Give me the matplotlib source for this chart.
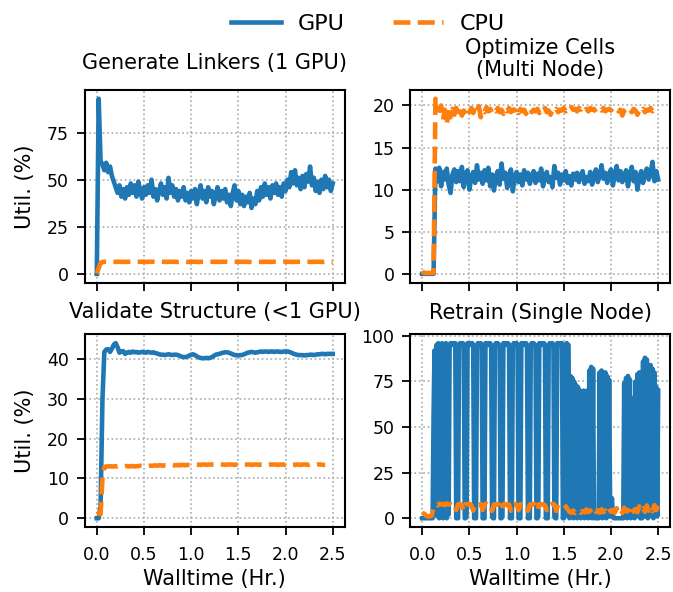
import numpy as np
import matplotlib
matplotlib.use("Agg")
import matplotlib.pyplot as plt

plt.rcParams["font.family"] = ["DejaVu Sans"]

GPU_COLOR = "#1f77b4"
CPU_COLOR = "#ff7f0e"

# ---------------- Generate Linkers (1 GPU) ----------------
linkers_step = 0.02
linkers_gpu = [
    0, 93, 60, 58, 55, 59, 54, 57, 52, 49, 46, 43, 47, 41, 45, 40, 46, 42, 48, 43,
    47, 41, 49, 44, 40, 46, 42, 47, 43, 50, 41, 45, 39, 44, 48, 42, 46, 40, 51, 43,
    47, 41, 45, 39, 44, 41, 46, 39, 43, 38, 44, 40, 45, 37, 43, 47, 40, 44, 38, 46,
    41, 44, 37, 42, 46, 39, 44, 40, 45, 38, 42, 36, 43, 47, 39, 44, 37, 42, 36, 41,
    38, 43, 35, 40, 37, 44, 39, 46, 41, 48, 42, 46, 40, 47, 43, 48, 42, 46, 41, 48,
    44, 50, 46, 54, 48, 55, 47, 51, 45, 52, 46, 53, 49, 57, 47, 51, 44, 49, 43, 50,
    45, 52, 46, 50, 44, 48,
]
linkers_cpu = [
    0.2, 3.0, 5.8,
    6.3, 6.4, 6.4, 6.3, 6.4, 6.4, 6.4, 6.3, 6.4, 6.4, 6.4, 6.4, 6.3, 6.4, 6.4, 6.4,
    6.4, 6.3, 6.4, 6.4, 6.4, 6.4, 6.4, 6.3, 6.4, 6.4, 6.4, 6.4, 6.3, 6.4, 6.4, 6.4,
    6.4, 6.4, 6.3, 6.4, 6.4, 6.4, 6.4, 6.4, 6.3, 6.4, 6.4, 6.4, 6.4, 6.3, 6.4, 6.4,
    6.4, 6.4, 6.4, 6.3, 6.4, 6.4, 6.4, 6.4, 6.3, 6.4, 6.4, 6.4, 6.4, 6.4, 6.3, 6.4,
    6.4, 6.4, 6.4, 6.3, 6.4, 6.4, 6.4, 6.4, 6.4, 6.3, 6.4, 6.4, 6.4, 6.4, 6.3, 6.4,
    6.4, 6.4, 6.4, 6.4, 6.3, 6.4, 6.4, 6.4, 6.4, 6.3, 6.4, 6.4, 6.4, 6.4, 6.4, 6.3,
    6.4, 6.4, 6.4, 6.4, 6.3, 6.4, 6.4, 6.4, 6.4, 6.4, 6.3, 6.4, 6.4, 6.4, 6.4, 6.3,
    6.4, 6.4, 6.4, 6.4, 6.4, 6.3, 6.4, 6.4, 6.4, 6.4, 6.3,
]

# ---------------- Optimize Cells (Multi Node) ----------------
cells_step = 0.02
cells_gpu = [
    0, 0, 0, 0, 0, 0, 0, 12.5,
    11.0, 12.6, 10.4, 12.1, 11.2, 12.5, 10.6, 9.6, 11.8, 12.4, 10.9, 12.2, 11.0, 12.7,
    10.3, 11.9, 12.3, 10.0, 11.5, 12.1, 10.8, 12.9, 11.2, 12.0, 10.7, 12.3, 11.1, 12.6,
    10.4, 11.8, 9.9, 11.6, 12.2, 10.6, 13.1, 11.3, 12.0, 10.2, 11.7, 12.4, 9.8, 11.5,
    12.1, 10.9, 11.8, 10.5, 12.3, 11.2, 12.0, 10.7, 11.6, 12.2, 10.8, 11.9, 11.1, 12.5,
    10.4, 11.7, 12.1, 10.9, 11.5, 10.3, 12.8, 11.4, 12.0, 10.6, 11.8, 11.1, 12.2, 10.8,
    11.6, 10.5, 11.9, 11.2, 12.0, 10.9, 11.7, 12.2, 10.7, 11.5, 11.0, 12.1, 10.6, 11.8,
    12.4, 10.9, 11.6, 12.9, 11.3, 12.0, 10.8, 11.9, 12.4, 10.5, 11.7, 12.8, 11.1, 12.2,
    10.9, 11.6, 12.3, 10.4, 11.8, 12.7, 11.0, 12.1, 10.0, 11.4, 12.2, 10.8, 11.9, 12.5,
    11.2, 12.0, 13.3, 11.0, 12.2, 11.2,
]
cells_cpu = [
    0.3, 0.1, 0.1, 0.1, 0.1, 0.1, 0.1, 20.8,
    20.2, 19.4, 20.0, 18.3, 19.5, 17.9, 19.2, 18.6, 19.6, 18.9, 19.7, 18.7, 19.3, 18.8,
    19.4, 19.0, 19.6, 19.2, 19.7, 19.1, 19.8, 19.3, 19.9, 18.6, 19.4, 19.2, 19.8, 19.3,
    19.6, 19.1, 19.5, 19.3, 19.7, 19.2, 19.5, 19.0, 19.6, 19.3, 19.7, 19.2, 19.5, 19.4,
    19.8, 19.1, 19.6, 19.3, 19.5, 19.0, 19.4, 19.7, 19.2, 19.5, 19.3, 19.6, 19.1, 19.5,
    19.3, 19.7, 19.2, 19.4, 18.9, 19.5, 19.3, 19.6, 19.2, 19.5, 19.4, 19.7, 19.3, 19.6,
    19.4, 19.8, 19.5, 19.6, 19.3, 19.7, 19.5, 19.8, 19.4, 19.6, 19.3, 19.7, 19.5, 19.6,
    19.2, 19.5, 19.6, 19.4, 19.7, 19.3, 19.5, 19.6, 19.4, 19.7, 19.5, 19.6, 19.3, 19.5,
    18.8, 19.4, 19.6, 19.3, 19.5, 19.2, 19.6, 19.4, 18.9, 19.5, 19.3, 19.6, 19.2, 19.5,
    19.4, 19.7, 19.3, 19.5, 19.4, 19.2,
]

# ---------------- Validate Structure (<1 GPU) ----------------
validate_step = 0.02
validate_gpu = [
    0, 0, 3, 30, 41.8, 42.4, 42.5, 41.8, 42.6, 43.6, 44.0, 43.0, 41.6, 41.9, 42.0, 41.3,
    41.6, 41.8, 41.6, 41.9, 41.7, 41.8, 41.6, 41.7, 41.8, 41.7, 41.6, 41.8, 41.7, 41.6,
    41.7, 41.5, 41.4, 41.2, 41.1, 41.1, 41.0, 41.1, 41.2, 41.1, 41.0, 41.1, 41.1, 41.0,
    40.8, 40.6, 40.5, 40.5, 40.6, 40.9, 41.1, 41.2, 41.0, 40.7, 40.4, 40.3, 40.2, 40.2,
    40.3, 40.2, 40.3, 40.5, 40.8, 41.1, 41.2, 41.3, 41.5, 41.6, 41.7, 41.7, 41.6, 41.4,
    41.2, 41.0, 41.0, 40.9, 41.0, 41.0, 41.2, 41.4, 41.6, 41.7, 41.8, 41.7, 41.6, 41.7,
    41.8, 41.9, 41.8, 41.9, 41.9, 41.8, 41.9, 41.9, 41.8, 41.9, 41.9, 41.8, 41.8, 41.9,
    41.9, 41.9, 41.8, 41.6, 41.4, 41.2, 41.1, 41.0, 41.0, 41.0, 40.9, 41.0, 41.0, 41.1,
    41.1, 41.0, 41.1, 41.2, 41.2, 41.3, 41.3, 41.2, 41.3, 41.3, 41.3, 41.3,
]
validate_cpu = [
    1.0, 1.3, 1.0, 10.0, 12.9, 13.0, 13.0, 13.1, 13.0, 13.0, 13.1, 13.0, 13.1, 13.0,
    13.0, 13.1, 13.1, 13.0, 13.1, 13.1, 13.0, 13.1, 13.1, 13.2, 13.1, 13.2, 13.2, 13.1,
    13.2, 13.2, 13.2, 13.3, 13.2, 13.3, 13.3, 13.2, 13.3, 13.3, 13.3, 13.3, 13.4, 13.3,
    13.3, 13.4, 13.3, 13.4, 13.4, 13.3, 13.4, 13.4, 13.4, 13.5, 13.4, 13.4, 13.5, 13.4,
    13.5, 13.5, 13.4, 13.5, 13.5, 13.5, 13.5, 13.4, 13.5, 13.5, 13.5, 13.5, 13.4, 13.5,
    13.5, 13.5, 13.5, 13.4, 13.5, 13.5, 13.5, 13.4, 13.5, 13.5, 13.5, 13.5, 13.4, 13.5,
    13.5, 13.5, 13.4, 13.5, 13.5, 13.5, 13.5, 13.4, 13.5, 13.5, 13.5, 13.5, 13.4, 13.5,
    13.5, 13.5, 13.4, 13.5, 13.5, 13.5, 13.5, 13.4, 13.5, 13.5, 13.4, 13.5, 13.5, 13.5,
    13.4, 13.5, 13.5, 13.5, 13.4, 13.5, 13.5, 13.5, 13.4, 13.4,
]

# ---------------- Retrain (Single Node) ----------------
retrain_gpu_step = 0.01
retrain_gpu = [
    # 0.00 - 0.13: idle, then ramp
    0, 0, 0, 0, 0, 0, 0, 0, 0, 0, 0, 0, 56, 92,
    # 0.14 - 0.28: dense start-up block
    2, 95, 1, 96, 0, 95, 3, 96, 0, 95, 1, 96, 0, 95, 2,
    # 0.29 - 1.55: steady training with periodic stalls
    95, 96, 95, 95, 96, 95, 96, 0, 1, 0,
    95, 96, 95, 95, 96, 95, 0, 0, 1,
    96, 95, 95, 96, 95, 96, 95, 0, 1, 0,
    95, 96, 95, 95, 96, 95, 0, 0, 0,
    96, 95, 96, 95, 95, 96, 95, 1, 0, 0,
    95, 96, 95, 96, 95, 95, 0, 0, 1,
    96, 95, 95, 96, 95, 96, 95, 0, 1, 0,
    95, 96, 95, 95, 96, 95, 0, 0, 0,
    96, 95, 96, 95, 95, 96, 95, 0, 1, 0,
    95, 96, 95, 96, 95, 95, 0, 0, 1,
    96, 95, 95, 96, 95, 96, 95, 0, 0, 0,
    95, 96, 95, 95, 96, 95, 1, 0, 0,
    96, 95, 96, 95, 95, 96, 0, 0, 1,
    95, 96, 95, 95,
    # 1.56 - 1.82: busy, lower peaks
    0, 78, 1, 77, 0, 75, 2, 73, 0, 72, 1, 70, 0, 69, 2, 70, 0, 69, 1, 70,
    0, 81, 2, 83, 0, 82, 1,
    # 1.83 - 1.87: idle
    0, 0, 0, 0, 0,
    # 1.88 - 2.02
    80, 1, 81, 0, 79, 2, 80, 0, 78, 1, 76, 12, 1, 11, 2,
    # 2.03 - 2.13: idle
    0, 0, 0, 0, 0, 0, 0, 0, 0, 0, 0,
    # 2.14 - 2.31
    74, 1, 77, 0, 78, 2, 76, 0, 66, 1, 64, 0, 75, 2, 79, 1, 80, 0,
    # 2.32 - 2.33: idle
    0, 0,
    # 2.34 - 2.50
    86, 2, 88, 1, 87, 0, 83, 2, 84, 1, 82, 0, 80, 2, 72, 1, 70,
]
retrain_cpu_step = 0.02
retrain_cpu = [
    3.0, 2.5, 1.5, 1.0, 1.0, 1.5, 6.0, 7.5, 7.0, 8.0, 7.6, 7.9, 7.2, 8.1, 7.5, 7.8,
    7.3, 7.9, 4.5, 7.6, 7.8, 7.2, 4.0, 7.7, 7.5, 8.0, 7.1, 4.2, 7.6, 7.9, 7.3, 7.8,
    4.5, 7.5, 8.0, 7.2, 7.7, 4.0, 7.6, 7.4, 7.9, 7.1, 4.3, 7.6, 7.8, 7.2, 7.5, 4.1,
    7.7, 7.9, 7.3, 4.4, 7.6, 7.8, 7.2, 7.5, 4.0, 7.6, 7.3, 7.8, 7.5, 4.2, 7.7, 7.4,
    7.8, 7.1, 4.5, 7.6, 7.4, 7.9, 7.5, 4.0, 7.6, 7.3, 7.8, 7.5, 6.5, 5.0, 3.5, 3.0,
    4.2, 2.8, 3.6, 4.5, 3.0, 4.0, 3.2, 4.8, 3.4, 4.3, 2.9, 5.0, 3.6, 4.4, 3.1, 4.9,
    3.3, 4.2, 2.8, 5.2, 3.5, 4.6, 3.0, 5.5, 3.2, 4.7, 2.9, 5.8, 3.8, 4.5, 3.1, 6.0,
    3.6, 5.0, 3.3, 6.5, 4.0, 5.4, 3.5, 7.0, 4.2, 6.0, 3.8, 7.2, 4.5, 6.8,
]

panels = [
    ("Generate Linkers (1 GPU)", linkers_gpu, linkers_step, linkers_cpu, linkers_step, 15),
    ("Optimize Cells\n(Multi Node)", cells_gpu, cells_step, cells_cpu, cells_step, 10),
    ("Validate Structure (<1 GPU)", validate_gpu, validate_step, validate_cpu, validate_step, 12),
    ("Retrain (Single Node)", retrain_gpu, retrain_gpu_step, retrain_cpu, retrain_cpu_step, 11),
]

fig, axes = plt.subplots(2, 2, figsize=(6.73, 5.92), dpi=100, sharex=True)
fig.subplots_adjust(left=0.1263, right=0.9955, top=0.848, bottom=0.1098,
                    wspace=0.254, hspace=0.269)

for ax, (title, gpu, gstep, cpu, cstep, pad) in zip(axes.flat, panels):
    tg = gstep * np.arange(len(gpu))
    tc = cstep * np.arange(len(cpu))
    ax.plot(tg, gpu, color=GPU_COLOR, lw=3.3, label="GPU")
    ax.plot(tc, cpu, color=CPU_COLOR, lw=3.3, ls="--", label="CPU")
    ax.set_title(title, fontsize=15, pad=pad, linespacing=1.1)
    ax.grid(True, ls=":", lw=1.2, color="#aaaaaa")
    ax.tick_params(direction="out", length=5.5, width=1.3, labelsize=12.5)
    ax.tick_params(axis="x", pad=8)
    ax.tick_params(axis="y", pad=6)
    for s in ax.spines.values():
        s.set_linewidth(1.5)
    ax.set_xticks([0.0, 0.5, 1.0, 1.5, 2.0, 2.5])

for ax in axes[1]:
    ax.set_xlabel("Walltime (Hr.)", fontsize=15)
for ax in axes[:, 0]:
    ax.set_ylabel("Util. (%)", fontsize=15, labelpad=9)

axes[0, 0].set_yticks([0, 25, 50, 75])
axes[0, 1].set_yticks([0, 5, 10, 15, 20])
axes[1, 0].set_yticks([0, 10, 20, 30, 40])
axes[1, 1].set_yticks([0, 25, 50, 75, 100])

handles, labels = axes[0, 0].get_legend_handles_labels()
fig.legend(handles, labels, loc="center", bbox_to_anchor=(0.547, 1 - 24 / 592),
           ncol=2, frameon=False, fontsize=16, handlelength=2.25,
           handletextpad=0.77, columnspacing=2.16)

fig.savefig("out.png", dpi=100)
